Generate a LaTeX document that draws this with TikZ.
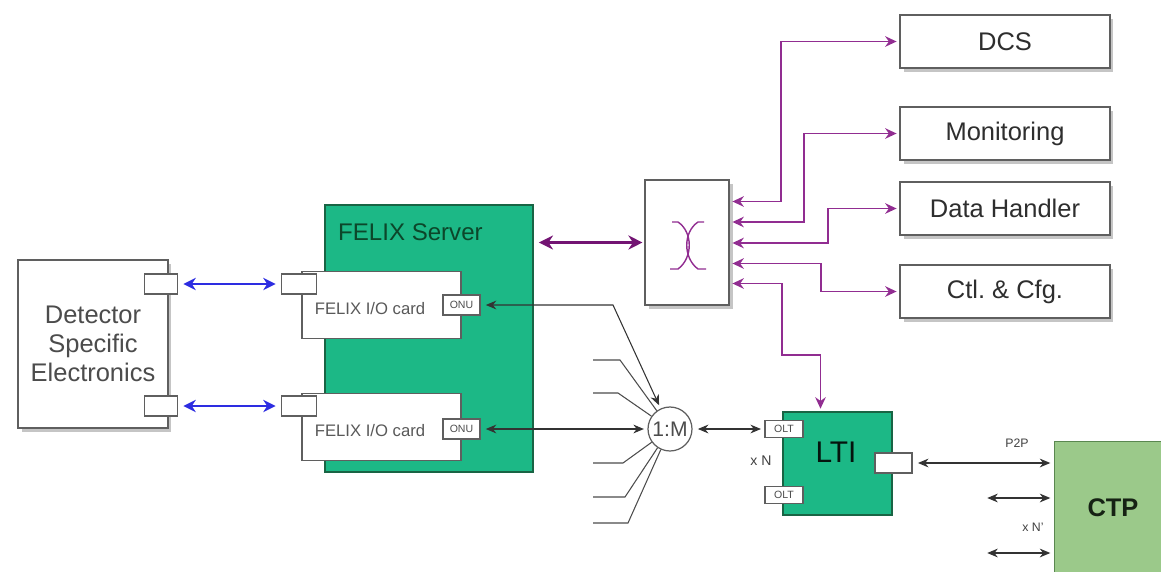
\documentclass[tikz,border=0pt]{standalone}
\usepackage{fontspec}
\setmainfont{Liberation Sans}
\usetikzlibrary{arrows.meta,shadows,calc}

\definecolor{felixgreen}{RGB}{28,184,134}
\definecolor{felixedge}{RGB}{25,100,68}
\definecolor{felixtext}{RGB}{12,70,42}
\definecolor{ctpgreen}{RGB}{155,201,138}
\definecolor{ctpedge}{RGB}{90,135,80}
\definecolor{ctlpurple}{RGB}{145,45,145}
\definecolor{buspurple}{RGB}{115,20,115}
\definecolor{linkblue}{RGB}{45,45,225}
\definecolor{boxedge}{RGB}{95,95,95}

\begin{document}
\begin{tikzpicture}[x=0.02cm, y=-0.02cm,
  box/.style={draw=boxedge, fill=white, line width=0.9pt,
    drop shadow={shadow xshift=2pt, shadow yshift=-2pt, fill=black!45}},
  bigtext/.style={font=\fontsize{14.5}{16.5}\selectfont, text=black!82},
  greenbox/.style={draw=felixedge, fill=felixgreen, line width=0.8pt},
  card/.style={draw=boxedge, fill=white, line width=0.8pt},
  port/.style={draw=boxedge, fill=white, line width=0.8pt, inner sep=0pt,
    minimum width=0.66cm, minimum height=0.4cm},
  tag/.style={draw=boxedge, fill=white, line width=0.6pt, inner sep=0pt,
    font=\fontsize{6}{7}\selectfont, text=black!70},
  bluelink/.style={{Stealth[length=7pt,width=7pt]}-{Stealth[length=7pt,width=7pt]},
    draw=linkblue, line width=1.5pt, shorten <=3pt, shorten >=3pt},
  buslink/.style={{Stealth[length=8pt,width=8pt]}-{Stealth[length=8pt,width=8pt]},
    draw=buspurple, line width=1.7pt, shorten <=3pt, shorten >=1pt},
  ctllink/.style={{Stealth[length=6.5pt,width=6pt]}-{Stealth[length=6.5pt,width=6pt]},
    draw=ctlpurple, line width=1pt, shorten <=1.5pt, shorten >=1.5pt},
  datalink/.style={{Stealth[length=6pt,width=5pt]}-{Stealth[length=6pt,width=5pt]},
    draw=black!80, line width=0.6pt, shorten <=3pt, shorten >=2pt},
  fanline/.style={draw=black!70, line width=0.6pt},
  smalltext/.style={font=\fontsize{7}{8}\selectfont, text=black!75}]

  \useasboundingbox (0,0) rectangle (1161,572);

  % -- Detector specific electronics --
  \node[box, bigtext, align=center, text=black!70, minimum width=3cm, minimum height=3.36cm] (dse) at (93,344)
    {Detector\\Specific\\Electronics};
  \node[port] (dsep1) at (161,284) {};
  \node[port] (dsep2) at (161,406) {};

  % -- FELIX server --
  \node[greenbox, minimum width=4.16cm, minimum height=5.34cm] (felix) at (429,338.5) {};
  \node[anchor=west, font=\fontsize{13.7}{15}\selectfont, text=felixtext] (felixlbl) at (332,232) {FELIX Server};

  % -- FELIX I/O cards --
  \node[card, minimum width=3.18cm, minimum height=1.34cm] (card1) at (381.5,305) {};
  \node[card, minimum width=3.18cm, minimum height=1.34cm] (card2) at (381.5,427) {};
  \node[font=\fontsize{9.5}{11}\selectfont, text=black!65] (card1lbl) at (370,309) {FELIX I/O card};
  \node[font=\fontsize{9.5}{11}\selectfont, text=black!65] (card2lbl) at (370,431) {FELIX I/O card};
  \node[port, minimum width=0.7cm] (cp1) at (299,284) {};
  \node[port, minimum width=0.7cm] (cp2) at (299,406) {};
  \node[tag, minimum width=0.74cm, minimum height=0.4cm] (onu1) at (461.5,305) {ONU};
  \node[tag, minimum width=0.74cm, minimum height=0.4cm] (onu2) at (461.5,429) {ONU};

  % -- Switch --
  \node[box, minimum width=1.68cm, minimum height=2.5cm] (switch) at (687,242.5) {};
  \draw[ctlpurple, line width=0.8pt] (672,222) -- (678,222) .. controls (693,232) and (693,258) .. (678,269) -- (670,269);
  \draw[ctlpurple, line width=0.8pt] (704,222) -- (698,222) .. controls (683,232) and (683,258) .. (698,269) -- (706,269);

  % -- Services --
  \node[box, bigtext, minimum width=4.2cm, minimum height=1.06cm] (dcs) at (1005,41.5) {DCS};
  \node[box, bigtext, minimum width=4.2cm, minimum height=1.06cm] (mon) at (1005,133.5) {Monitoring};
  \node[box, bigtext, minimum width=4.2cm, minimum height=1.06cm] (dh) at (1005,208.5) {Data Handler};
  \node[box, bigtext, minimum width=4.2cm, minimum height=1.06cm] (ctl) at (1005,291.5) {Ctl.\ \& Cfg.};

  % -- Splitter --
  \node[circle, draw=boxedge, fill=white, line width=0.7pt, minimum size=0.88cm, inner sep=0pt,
    font=\fontsize{12}{13}\selectfont, text=black!70] (mux) at (670,429) {1:M};

  % -- LTI --
  \node[greenbox, minimum width=2.18cm, minimum height=2.06cm] (lti) at (837.5,463.5) {};
  \node[font=\fontsize{17}{19}\selectfont, text=black!80!felixedge] (ltilbl) at (836,452) {LTI};
  \node[tag, minimum width=0.76cm, minimum height=0.34cm] (olt1) at (784,429) {OLT};
  \node[tag, minimum width=0.76cm, minimum height=0.34cm] (olt2) at (784,495) {OLT};
  \node[port, minimum width=0.74cm] (ltip) at (893.5,463) {};
  \node[font=\fontsize{8}{9}\selectfont, text=black!75] (xn) at (761,461) {x N};

  % -- CTP --
  \node[draw=ctpedge, fill=ctpgreen, line width=0.8pt, minimum width=2.3cm, minimum height=2.7cm] (ctp) at (1112,509) {};
  \node[font=\bfseries\fontsize{14.5}{16}\selectfont, text=black!75!ctpedge] (ctplbl) at (1113,508) {CTP};

  % -- Detector links --
  \draw[bluelink] (dsep1.east) -- (cp1.west);
  \draw[bluelink] (dsep2.east) -- (cp2.west);

  % -- Server to switch --
  \draw[buslink] (felix.east |- switch.west) -- (switch.west);

  % -- Switch to services --
  \coordinate (s1) at ($(switch.east)+(0,-41)$);
  \coordinate (s2) at ($(switch.east)+(0,-20.5)$);
  \coordinate (s3) at ($(switch.east)+(0,0.5)$);
  \coordinate (s4) at ($(switch.east)+(0,21)$);
  \coordinate (s5) at ($(switch.east)+(0,41)$);
  \draw[ctllink] (s1) -| ($(dcs.west)+(-118,0)$) -- (dcs.west);
  \draw[ctllink] (s2) -| ($(mon.west)+(-95,0)$) -- (mon.west);
  \draw[ctllink] (s3) -| ($(dh.west)+(-71,0)$) -- (dh.west);
  \draw[ctllink] (s4) -| ($(ctl.west)+(-78,0)$) -- (ctl.west);
  \coordinate (ctlbend) at (782,355);
  \draw[ctllink] (s5) -| (ctlbend) -| ($(lti.north)+(-17,0)$);

  % -- ONU links and fan-in --
  \coordinate (onubend) at (613,305);
  \draw[datalink] (onu1.east) -- (onubend) -- (mux);
  \draw[datalink] (onu2.east) -- (mux.west);
  \foreach \fy/\fx in {360/620, 393/618, 463/623, 497/625, 523/628} {
    \coordinate (fan\fy) at (593,\fy);
    \draw[fanline] (fan\fy) -- (\fx,\fy) -- (mux);
  }
  \draw[datalink] (mux.east) -- (olt1.west);

  % -- LTI to CTP --
  \draw[datalink] (ltip.east) -- (ltip.east -| ctp.west);
  \node[smalltext] (p2p) at (1017,443) {P2P};
  \coordinate (ctpin1) at (982,498);
  \coordinate (ctpin2) at (982,553);
  \draw[datalink] (ctpin1) -- (ctpin1 -| ctp.west);
  \draw[datalink] (ctpin2) -- (ctpin2 -| ctp.west);
  \node[smalltext] (xnp) at (1033,527) {x N'};

\end{tikzpicture}
\end{document}
